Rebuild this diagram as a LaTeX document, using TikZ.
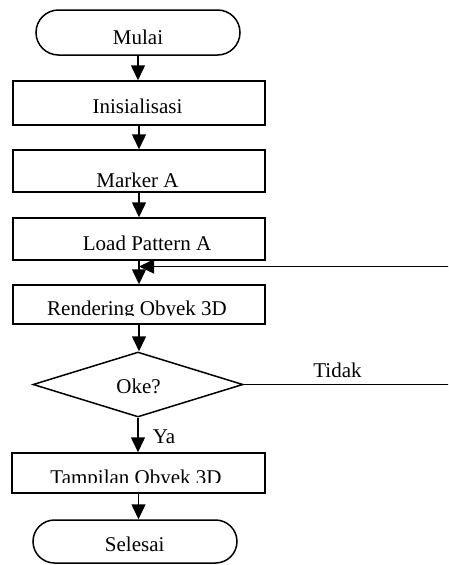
\documentclass[tikz,border=0pt]{standalone}
\usepackage{fontspec}
\setmainfont{Liberation Serif}
\usetikzlibrary{shapes.misc,shapes.geometric,arrows.meta}
\begin{document}
\begin{tikzpicture}[x=1pt,y=-1pt,
  line width=1.5pt,
  box/.style={draw,rectangle,minimum width=252pt,inner sep=0pt},
  term/.style={draw,rounded rectangle,minimum width=204pt,minimum height=45pt,inner sep=0pt},
  decision/.style={draw,diamond,minimum width=210pt,minimum height=65pt,inner sep=0pt,aspect=3.2},
  lbl/.style={anchor=base,inner sep=0pt,font=\fontsize{21}{25}\selectfont},
  arr/.style={-{Triangle[length=15pt,width=14pt]}},
  ]
\useasboundingbox (0,0) rectangle (448,565);
\clip (0,0) rectangle (448,565);

% shapes
\node[term] (mulai) at (138,32.5) {};
\node[box,minimum height=44pt] (init) at (139,103) {};
\node[box,minimum height=42pt] (marker) at (139,171) {};
\node[box,minimum height=42pt] (load) at (139,239) {};
\node[box,minimum height=39pt] (render) at (139,304.5) {};
\node[decision] (oke) at (138,384.5) {};
\node[box,minimum width=253pt,minimum height=40pt] (show) at (138.5,473) {};
\node[term,minimum height=43pt] (sel) at (135,541.5) {};

% texts
\begin{scope}
  \clip (0,0) rectangle (448,43.5);
  \node[lbl] (tmulai) at (138,44) {Mulai};
\end{scope}
\node[lbl] (tinit) at (137.5,113.5) {Inisialisasi};
\node[lbl] (tmarker) at (137.5,187.5) {Marker A};
\node[lbl] (tload) at (147,250) {Load Pattern A};
\begin{scope}
  \clip (0,290) rectangle (448,315);
  \node[lbl] (trender) at (137,315.8) {Rendering Obyek 3D};
\end{scope}
\node[lbl] (toke) at (138.5,393) {Oke?};
\begin{scope}
  \clip (0,460) rectangle (448,482.8);
  \node[lbl] (tshow) at (136,484.6) {Tampilan Obyek 3D};
\end{scope}
\begin{scope}
  \clip (0,525) rectangle (448,551.7);
  \node[lbl] (tsel) at (134.7,551.5) {Selesai};
\end{scope}
\node[lbl] (tidak) at (337.5,377) {Tidak};
\node[lbl,anchor=base west] (ya) at (152,443) {Ya};

% connectors
\draw[arr] (mulai.south) -- (mulai.south |- init.north);
\draw[arr] (init.south) -- (init.south |- marker.north);
\draw[arr] (marker.south) -- (marker.south |- load.north);
\draw[arr] (load.south) -- (load.south |- render.north);
\draw[arr] (render.south) -- (render.south |- oke.north);
\draw[arr] (oke.south) -- (oke.south |- show.north);
\draw[arr] (show.south) -- (show.south |- sel.north);

\coordinate (r1) at (455,384.5);
\coordinate (r2) at (455,266.5);
\coordinate (j) at (139,266.5);
\draw[arr] (oke.east) -- (r1) -- (r2) -- (j);
\end{tikzpicture}
\end{document}
